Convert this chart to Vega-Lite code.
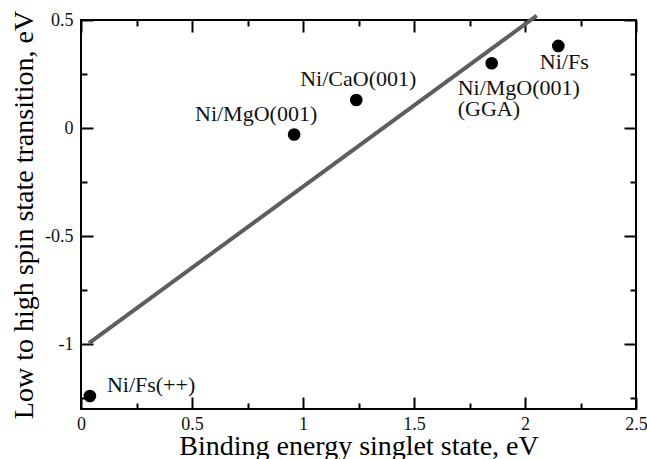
{
  "$schema": "https://vega.github.io/schema/vega-lite/v6.json",
  "width": 555,
  "height": 389,
  "autosize": {"type": "none"},
  "padding": {"left": 81, "top": 20, "right": 11, "bottom": 50},
  "background": "white",
  "config": {
    "view": {"stroke": "black", "strokeWidth": 2},
    "font": "Liberation Serif",
    "axis": {
      "domain": false,
      "grid": false,
      "tickColor": "black",
      "tickWidth": 2,
      "labelFont": "Liberation Serif",
      "labelFontSize": 18,
      "labelColor": "#111",
      "titleFont": "Liberation Serif",
      "titleFontSize": 28,
      "titleFontWeight": "normal",
      "titleColor": "black"
    },
    "text": {"font": "Liberation Serif", "fontSize": 22, "color": "#111"}
  },
  "datasets": {
    "points": [
      {"name": "Ni/Fs(++)", "x": 0.04, "y": -1.24},
      {"name": "Ni/MgO(001)", "x": 0.96, "y": -0.03},
      {"name": "Ni/CaO(001)", "x": 1.24, "y": 0.13},
      {"name": "Ni/MgO(001) (GGA)", "x": 1.85, "y": 0.30},
      {"name": "Ni/Fs", "x": 2.15, "y": 0.38}
    ],
    "fit": [
      {"x": 0.036, "y": -0.995},
      {"x": 2.053, "y": 0.52}
    ]
  },
  "resolve": {"axis": {"x": "independent", "y": "independent"}},
  "layer": [
    {
      "data": {"name": "fit"},
      "mark": {"type": "line", "color": "#5e5e5e", "strokeWidth": 4, "clip": false},
      "encoding": {
        "x": {
          "field": "x", "type": "quantitative",
          "scale": {"domain": [0, 2.5], "nice": false, "zero": false},
          "axis": {
            "orient": "bottom",
            "title": "Binding energy singlet state, eV",
            "titleY": 45,
            "titleBaseline": "alphabetic",
            "values": [0, 0.5, 1, 1.5, 2, 2.5],
            "labelExpr": "'' + datum.value",
            "ticks": false,
            "labelPadding": 6,
            "labelFlush": false
          }
        },
        "y": {
          "field": "y", "type": "quantitative",
          "scale": {"domain": [-1.3, 0.5], "nice": false, "zero": false},
          "axis": {
            "orient": "left",
            "title": "Low to high spin state transition, eV",
            "titleX": -57,
            "titleBaseline": "middle",
            "values": [-1, -0.5, 0, 0.5],
            "labelExpr": "'' + datum.value",
            "ticks": false,
            "labelPadding": 8,
            "labelFlush": false
          }
        }
      }
    },
    {
      "data": {"name": "points"},
      "mark": {"type": "circle", "color": "black", "opacity": 1, "size": 160},
      "encoding": {
        "x": {
          "field": "x", "type": "quantitative",
          "axis": {
            "orient": "top", "offset": -389, "title": null, "labels": false,
            "values": [0, 0.25, 0.5, 0.75, 1, 1.25, 1.5, 1.75, 2, 2.25, 2.5],
            "tickSize": {"condition": {"test": "datum.value % 0.5 === 0", "value": 12}, "value": 6}
          }
        },
        "y": {
          "field": "y", "type": "quantitative",
          "axis": {
            "orient": "right", "offset": -555, "title": null, "labels": false,
            "values": [-1.25, -1, -0.75, -0.5, -0.25, 0, 0.25, 0.5],
            "tickSize": {"condition": {"test": "datum.value % 0.5 === 0", "value": 12}, "value": 6}
          }
        }
      }
    },
    {
      "data": {"name": "points"},
      "transform": [{"filter": "datum.name === 'Ni/Fs(++)'"}],
      "mark": {"type": "text", "align": "left", "baseline": "middle", "dx": 17, "dy": -11},
      "encoding": {
        "x": {
          "field": "x", "type": "quantitative",
          "axis": {
            "orient": "bottom", "offset": -389, "title": null, "labels": false,
            "values": [0, 0.25, 0.5, 0.75, 1, 1.25, 1.5, 1.75, 2, 2.25, 2.5],
            "tickSize": {"condition": {"test": "datum.value % 0.5 === 0", "value": 12}, "value": 6}
          }
        },
        "y": {
          "field": "y", "type": "quantitative",
          "axis": {
            "orient": "left", "offset": -555, "title": null, "labels": false,
            "values": [-1.25, -1, -0.75, -0.5, -0.25, 0, 0.25, 0.5],
            "tickSize": {"condition": {"test": "datum.value % 0.5 === 0", "value": 12}, "value": 6}
          }
        },
        "text": {"field": "name"}
      }
    },
    {
      "data": {"name": "points"},
      "transform": [{"filter": "datum.name === 'Ni/MgO(001)'"}],
      "mark": {"type": "text", "align": "center", "baseline": "middle", "dx": -38, "dy": -21},
      "encoding": {
        "x": {"field": "x", "type": "quantitative", "axis": null},
        "y": {"field": "y", "type": "quantitative", "axis": null},
        "text": {"field": "name"}
      }
    },
    {
      "data": {"name": "points"},
      "transform": [{"filter": "datum.name === 'Ni/CaO(001)'"}],
      "mark": {"type": "text", "align": "center", "baseline": "middle", "dx": 2, "dy": -21},
      "encoding": {
        "x": {"field": "x", "type": "quantitative", "axis": null},
        "y": {"field": "y", "type": "quantitative", "axis": null},
        "text": {"field": "name"}
      }
    },
    {
      "data": {"name": "points"},
      "transform": [{"filter": "datum.name === 'Ni/MgO(001) (GGA)'"}],
      "mark": {"type": "text", "align": "left", "baseline": "middle", "dx": -34, "dy": 25, "lineBreak": " ", "lineHeight": 21},
      "encoding": {
        "x": {"field": "x", "type": "quantitative", "axis": null},
        "y": {"field": "y", "type": "quantitative", "axis": null},
        "text": {"field": "name"}
      }
    },
    {
      "data": {"name": "points"},
      "transform": [{"filter": "datum.name === 'Ni/Fs'"}],
      "mark": {"type": "text", "align": "center", "baseline": "middle", "dx": 6, "dy": 16},
      "encoding": {
        "x": {"field": "x", "type": "quantitative", "axis": null},
        "y": {"field": "y", "type": "quantitative", "axis": null},
        "text": {"field": "name"}
      }
    }
  ]
}
